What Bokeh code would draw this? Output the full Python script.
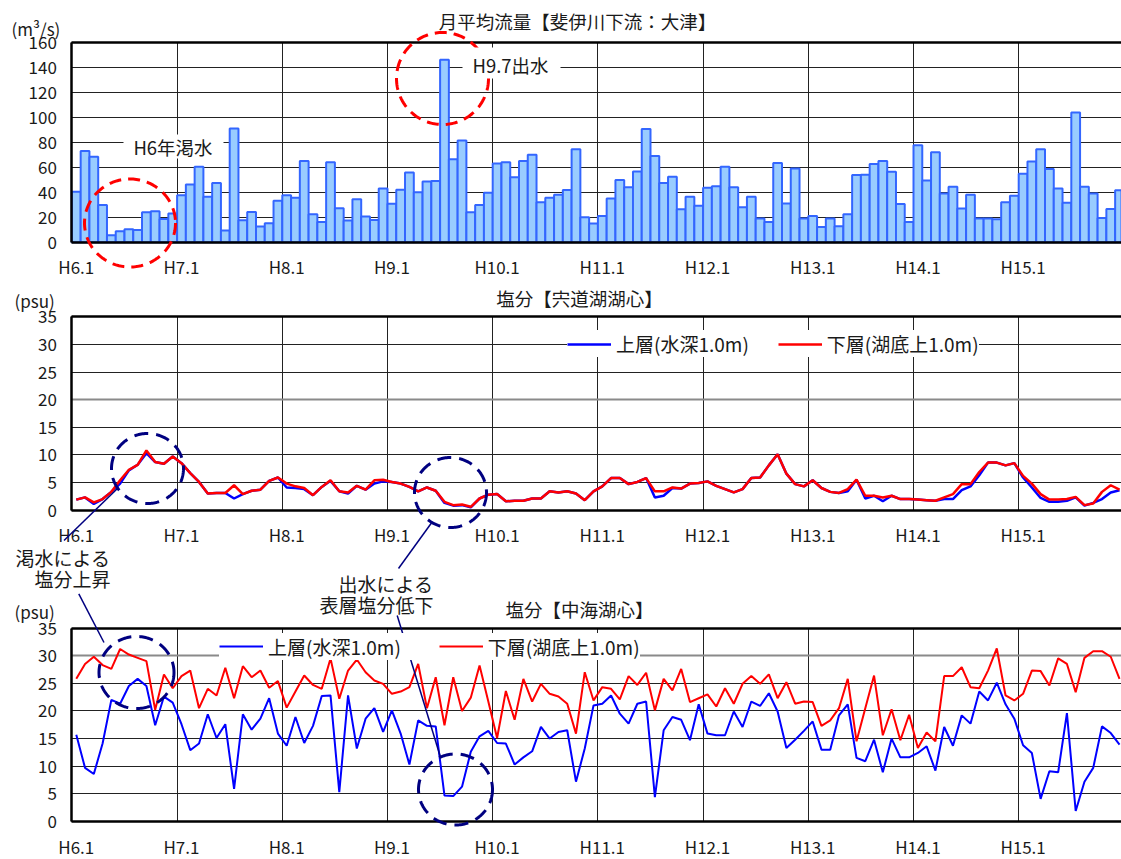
import numpy as np
from bokeh.plotting import figure
from bokeh.models import (FixedTicker, Label, BoxAnnotation, PolyAnnotation, Arrow,
                          Grid, Legend, LegendItem, LinearAxis, Range1d)
from bokeh.embed import file_html
from bokeh.resources import INLINE

FONT = "Noto Sans CJK JP"

year_labels = ["H6.1", "H7.1", "H8.1", "H9.1", "H10.1",
               "H11.1", "H12.1", "H13.1", "H14.1", "H15.1"]

# monthly mean discharge (m3/s), H6.1 - H15.12
flow = [40.4, 73.0, 68.3, 29.8, 5.6, 8.8, 10.4, 9.8, 23.9, 24.7, 18.6, 22.9,
        37.5, 46.2, 60.3, 36.4, 47.3, 9.3, 90.9, 17.5, 24.2, 12.5, 15.1, 33.2,
        37.5, 35.6, 64.9, 22.3, 16.2, 64.0, 27.1, 17.3, 34.3, 20.5, 17.8, 43.0,
        30.8, 42.0, 55.8, 39.9, 48.6, 48.9, 145.9, 66.4, 81.3, 23.9, 29.8, 39.6,
        63.0, 64.0, 52.0, 65.0, 70.0, 32.0, 35.6, 38.0, 41.7, 74.4, 20.0, 15.0,
        21.0, 35.0, 49.7, 44.0, 56.6, 90.6, 69.0, 47.3, 52.4, 26.3, 36.4, 29.2,
        43.6, 44.7, 60.3, 44.0, 28.0, 36.4, 19.0, 16.2, 63.3, 31.0, 59.0, 19.0,
        21.0, 12.2, 18.9, 12.8, 22.3, 53.7, 54.0, 62.5, 65.0, 56.3, 30.6, 16.2,
        77.6, 49.4, 72.0, 39.0, 44.4, 27.0, 38.0, 19.0, 19.0, 18.3, 32.0, 37.2,
        54.8, 64.6, 74.4, 58.5, 43.0, 31.6, 103.7, 44.4, 39.0, 19.4, 26.6, 41.5]

# Lake Shinji salinity (psu)
shinji_upper = [1.9, 2.3, 1.1, 2.0, 3.3, 4.8, 7.2, 8.2, 10.3, 8.7, 8.4, 9.7,
                8.5, 6.7, 5.1, 3.0, 3.1, 3.1, 2.1, 2.9, 3.5, 3.7, 5.3, 5.9,
                4.1, 4.0, 3.8, 2.7, 4.2, 5.3, 3.4, 3.0, 4.4, 3.7, 4.8, 5.2,
                5.1, 4.8, 4.2, 3.4, 4.1, 3.5, 1.3, 0.8, 0.9, 0.5, 2.1, 2.8,
                2.9, 1.6, 1.7, 1.7, 2.1, 2.1, 3.4, 3.2, 3.4, 3.0, 1.8, 3.4,
                4.3, 5.8, 5.8, 4.7, 5.1, 5.8, 2.3, 2.6, 4.0, 3.9, 4.8, 4.9,
                5.2, 4.4, 3.8, 3.2, 3.8, 5.8, 5.9, 8.1, 10.1, 6.6, 4.7, 4.3,
                5.4, 4.0, 3.3, 3.1, 3.4, 5.5, 2.1, 2.6, 1.6, 2.6, 2.0, 2.0,
                1.9, 1.8, 1.7, 2.0, 2.0, 3.6, 4.3, 6.3, 8.6, 8.6, 8.1, 8.5,
                5.9, 4.1, 2.2, 1.5, 1.5, 1.7, 2.3, 0.8, 1.3, 2.0, 3.2, 3.6]
shinji_lower = [1.9, 2.3, 1.4, 2.0, 3.3, 5.4, 7.3, 8.2, 10.8, 8.7, 8.4, 9.7,
                8.5, 6.7, 5.1, 3.0, 3.1, 3.1, 4.5, 2.9, 3.5, 3.7, 5.3, 5.9,
                4.8, 4.3, 4.0, 2.7, 4.2, 5.4, 3.4, 3.2, 4.4, 3.7, 5.4, 5.5,
                5.1, 4.8, 4.2, 3.4, 4.1, 3.5, 1.5, 0.9, 1.0, 0.6, 2.1, 2.8,
                2.9, 1.6, 1.7, 1.7, 2.1, 2.1, 3.4, 3.2, 3.4, 3.0, 1.8, 3.4,
                4.3, 5.8, 5.8, 4.7, 5.1, 5.8, 3.4, 3.4, 4.1, 3.9, 4.8, 4.9,
                5.2, 4.4, 3.8, 3.2, 3.8, 5.8, 5.9, 8.1, 10.1, 6.6, 4.7, 4.3,
                5.4, 4.0, 3.3, 3.1, 3.8, 5.5, 2.6, 2.6, 2.3, 2.6, 2.0, 2.0,
                1.9, 1.8, 1.7, 2.3, 2.9, 4.7, 4.7, 6.9, 8.6, 8.6, 8.1, 8.5,
                6.2, 4.8, 2.9, 1.9, 1.9, 2.0, 2.4, 0.9, 1.2, 3.3, 4.5, 3.7]

# Lake Nakaumi salinity (psu)
nakaumi_upper = [15.7, 9.7, 8.6, 14.1, 22.0, 21.3, 24.5, 25.8, 24.5, 17.4, 22.6, 21.5,
                 17.6, 12.9, 14.1, 19.4, 15.1, 17.6, 5.9, 19.4, 16.6, 18.6, 22.3, 15.9,
                 13.7, 18.9, 14.2, 17.3, 22.7, 22.8, 5.3, 22.8, 13.2, 18.6, 20.5, 16.2,
                 20.1, 15.9, 10.3, 18.3, 17.3, 17.2, 4.7, 4.6, 6.3, 12.6, 15.4, 16.4,
                 14.2, 14.1, 10.3, 11.6, 12.7, 17.1, 15.0, 16.2, 16.5, 7.2, 13.2, 21.0,
                 21.3, 22.8, 19.5, 17.7, 21.3, 21.7, 4.4, 16.5, 18.9, 18.4, 14.7, 21.2,
                 15.9, 15.6, 15.6, 19.9, 17.1, 21.7, 20.9, 23.2, 19.9, 13.3, 14.8, 16.4,
                 18.1, 13.0, 13.0, 19.2, 21.2, 11.5, 10.9, 14.8, 8.9, 15.0, 11.6, 11.6,
                 12.4, 13.6, 9.2, 17.1, 13.7, 19.2, 17.7, 23.5, 21.9, 25.1, 21.2, 18.6,
                 13.8, 12.4, 4.1, 9.1, 8.9, 19.6, 1.9, 7.2, 9.7, 17.2, 16.0, 13.9]
nakaumi_lower = [25.8, 28.5, 29.8, 28.3, 27.6, 31.2, 30.2, 29.6, 29.0, 20.2, 26.6, 24.1,
                 26.3, 27.3, 20.5, 24.0, 22.8, 27.8, 22.3, 28.1, 26.1, 27.3, 24.2, 25.4,
                 20.6, 23.5, 26.4, 24.7, 24.0, 29.5, 22.2, 27.3, 29.3, 27.0, 25.5, 24.9,
                 23.1, 23.5, 24.3, 28.5, 20.5, 26.1, 17.4, 26.1, 20.0, 22.4, 28.2, 21.7,
                 15.1, 23.6, 18.4, 25.8, 21.7, 24.9, 23.1, 22.6, 21.3, 15.9, 27.0, 21.9,
                 24.3, 24.0, 22.1, 26.3, 24.7, 26.9, 20.1, 25.8, 23.7, 27.6, 21.6, 22.3,
                 23.0, 20.8, 24.1, 21.3, 24.9, 26.3, 24.9, 26.6, 22.3, 25.2, 21.3, 21.7,
                 21.6, 17.3, 18.3, 20.5, 25.8, 14.5, 20.5, 26.4, 15.6, 20.3, 14.7, 19.3,
                 13.3, 16.1, 14.5, 26.3, 26.3, 27.9, 24.3, 24.1, 27.3, 31.3, 22.8, 21.9,
                 23.1, 27.3, 27.2, 24.6, 29.5, 28.5, 23.4, 29.6, 30.8, 30.8, 29.8, 25.8]

months = np.arange(len(flow)) + 0.5
N_MONTHS = 120

W, H = 1121, 859
DATA_L = 71.4          # page px of H6.1
MONTH_PX = 8.7667      # page px per month
TXT = "#1a1a1a"
NAVY = "#000080"

# panel data areas (page px)
P1 = dict(name="default", top=41.7, fh=200.0, ymax=160, step=20)
P2 = dict(name="p2", top=316.3, fh=193.3, ymax=35, step=5)
P3 = dict(name="p3", top=627.5, fh=193.5, ymax=35, step=5)


def mx(px):
    return (px - DATA_L) / MONTH_PX


def my(py, pan=P1):
    return (pan["top"] + pan["fh"] - py) / pan["fh"] * pan["ymax"]


def yrange(pan):
    return Range1d(my(H, pan), my(0, pan))


p = figure(width=W, height=H, output_backend="svg", toolbar_location=None,
           x_range=Range1d(mx(0), mx(W)), y_range=yrange(P1),
           min_border=0, min_border_left=0, min_border_right=0,
           min_border_top=0, min_border_bottom=0)
p.extra_y_ranges = {"p2": yrange(P2), "p3": yrange(P3)}
p.outline_line_color = None
p.background_fill_color = "white"
p.border_fill_color = "white"
p.xgrid.visible = False
p.ygrid.visible = False


def style_axis(ax):
    ax.axis_line_color = "black"
    ax.axis_line_width = 2.5
    ax.major_tick_line_color = None
    ax.minor_tick_line_color = None
    ax.major_tick_out = 0
    ax.major_tick_in = 0
    ax.major_label_text_font = FONT
    ax.major_label_text_font_size = "17px"
    ax.major_label_text_color = TXT


def setup_panel(pan, xaxis, yaxis):
    ymax = pan["ymax"]
    xaxis.ticker = FixedTicker(ticks=[12 * i + 0.5 for i in range(10)])
    xaxis.major_label_overrides = {12 * i + 0.5: lab for i, lab in enumerate(year_labels)}
    xaxis.fixed_location = 0
    xaxis.bounds = (0, N_MONTHS)
    xaxis.major_label_standoff = 12
    yaxis.ticker = FixedTicker(ticks=list(range(0, ymax + 1, pan["step"])))
    yaxis.fixed_location = 0
    yaxis.bounds = (0, ymax)
    yaxis.major_label_standoff = 15
    style_axis(xaxis)
    style_axis(yaxis)
    rn = pan["name"]
    p.add_layout(Grid(dimension=0, y_range_name=rn,
                      ticker=FixedTicker(ticks=[12 * i for i in range(10)]),
                      cross_bounds=(0, ymax), grid_line_color="#222222", grid_line_width=1))
    p.add_layout(Grid(dimension=1, y_range_name=rn,
                      ticker=FixedTicker(ticks=list(range(0, ymax + 1, pan["step"]))),
                      cross_bounds=(0, N_MONTHS), grid_line_color="#222222", grid_line_width=1))


def hline(pan, yv, color, width):
    p.add_layout(Grid(dimension=1, y_range_name=pan["name"], ticker=FixedTicker(ticks=[yv]),
                      cross_bounds=(0, N_MONTHS), grid_line_color=color, grid_line_width=width))


def label(text, px, py, align="center", size="18.5px"):
    p.add_layout(Label(x=mx(px), y=my(py), text=text, text_align=align,
                       text_baseline="middle", text_font=FONT, text_font_size=size,
                       text_color=TXT))


def ellipse(cx, cy, w, h, color, dash):
    t = np.linspace(0, 2 * np.pi, 181)
    xs = [float(mx(cx + w / 2 * np.cos(a))) for a in t]
    ys = [float(my(cy + h / 2 * np.sin(a))) for a in t]
    p.add_layout(PolyAnnotation(xs=xs, ys=ys, fill_color=None, fill_alpha=0,
                                line_color=color, line_alpha=1, line_width=3,
                                line_dash=dash))


def leader(x0, y0, x1, y1):
    p.add_layout(Arrow(end=None, x_start=mx(x0), y_start=my(y0),
                       x_end=mx(x1), y_end=my(y1), line_color=NAVY, line_width=1.5))


def whitebox(l, r, t, b):
    p.add_layout(BoxAnnotation(left=mx(l), right=mx(r), top=my(t), bottom=my(b),
                               fill_color="white", fill_alpha=1, line_color=None))


def make_legend(r_up, r_low, left_px, bottom_px, pad, spacing):
    leg = Legend(items=[LegendItem(label="上層(水深1.0m)", renderers=[r_up]),
                        LegendItem(label="下層(湖底上1.0m)", renderers=[r_low])],
                 orientation="horizontal", location=(left_px, H - bottom_px),
                 padding=pad, spacing=spacing,
                 glyph_width=44, glyph_height=20, label_standoff=5, margin=0,
                 label_text_font=FONT, label_text_font_size="19px", label_text_color=TXT,
                 border_line_color=None, background_fill_color="white",
                 background_fill_alpha=1)
    p.add_layout(leg, "center")


# ---------------- panel 1 : discharge ----------------
setup_panel(P1, p.xaxis[0], p.yaxis[0])
hline(P1, 160, "black", 2.5)
p.vbar(x=months, top=flow, width=1, bottom=0, fill_color="#99CCFF",
       line_color="#3366FF", line_width=2)

# ---------------- panel 2 : Lake Shinji ----------------
xa2 = LinearAxis(y_range_name="p2")
ya2 = LinearAxis(y_range_name="p2")
p.add_layout(xa2, "below")
p.add_layout(ya2, "left")
setup_panel(P2, xa2, ya2)
hline(P2, 20, "#8a8a8a", 2)
hline(P2, 35, "black", 2.5)
b2 = p.line(months, shinji_upper, line_color="#0000FF", line_width=2.5, y_range_name="p2")
r2 = p.line(months, shinji_lower, line_color="#FF0000", line_width=2.5, y_range_name="p2")

# ---------------- panel 3 : Lake Nakaumi ----------------
xa3 = LinearAxis(y_range_name="p3")
ya3 = LinearAxis(y_range_name="p3")
p.add_layout(xa3, "below")
p.add_layout(ya3, "left")
setup_panel(P3, xa3, ya3)
hline(P3, 30, "#8a8a8a", 2)
hline(P3, 35, "black", 2.5)
b3 = p.line(months, nakaumi_upper, line_color="#0000FF", line_width=2, y_range_name="p3")
r3 = p.line(months, nakaumi_lower, line_color="#FF0000", line_width=2, y_range_name="p3")

# ---------------- legends ----------------
make_legend(b2, r2, 567, 357, 6, 29)
make_legend(b3, r3, 219, 659.5, 4, 38)

# ---------------- annotations ----------------
ellipse(129.5, 222.5, 91, 88, "#FF0000", "12 7")
ellipse(442, 78, 92, 92, "#FF0000", "12 7")
whitebox(123, 223, 134, 158)
whitebox(462, 560, 47, 78)
label("H6年渇水", 172.5, 146)
label("H9.7出水", 510, 64)
label("月平均流量【斐伊川下流：大津】", 577, 20)
label("(m³/s)", 11, 28, align="left", size="17px")

ellipse(147, 468, 72, 70, NAVY, "14 8")
ellipse(450, 492, 72, 70, NAVY, "14 8")
label("塩分【宍道湖湖心】", 579, 297)
label("(psu)", 14, 300, align="left", size="17px")

ellipse(136, 672, 75, 72, NAVY, "14 8")
ellipse(455, 789, 74, 71, NAVY, "14 8")
label("塩分【中海湖心】", 579, 608)
label("(psu)", 14, 611, align="left", size="17px")

leader(63.5, 540, 118, 487)
leader(398, 568, 432, 521)
leader(78.3, 593.3, 103.5, 642)
leader(396.7, 615, 440, 756.7)
label("渇水による", 110, 556.5, align="right", size="19px")
label("塩分上昇", 110, 578, align="right", size="19px")
label("出水による", 433, 582.5, align="right", size="19px")
label("表層塩分低下", 433, 604, align="right", size="19px")

open("out.html", "w").write(file_html(p, INLINE))
